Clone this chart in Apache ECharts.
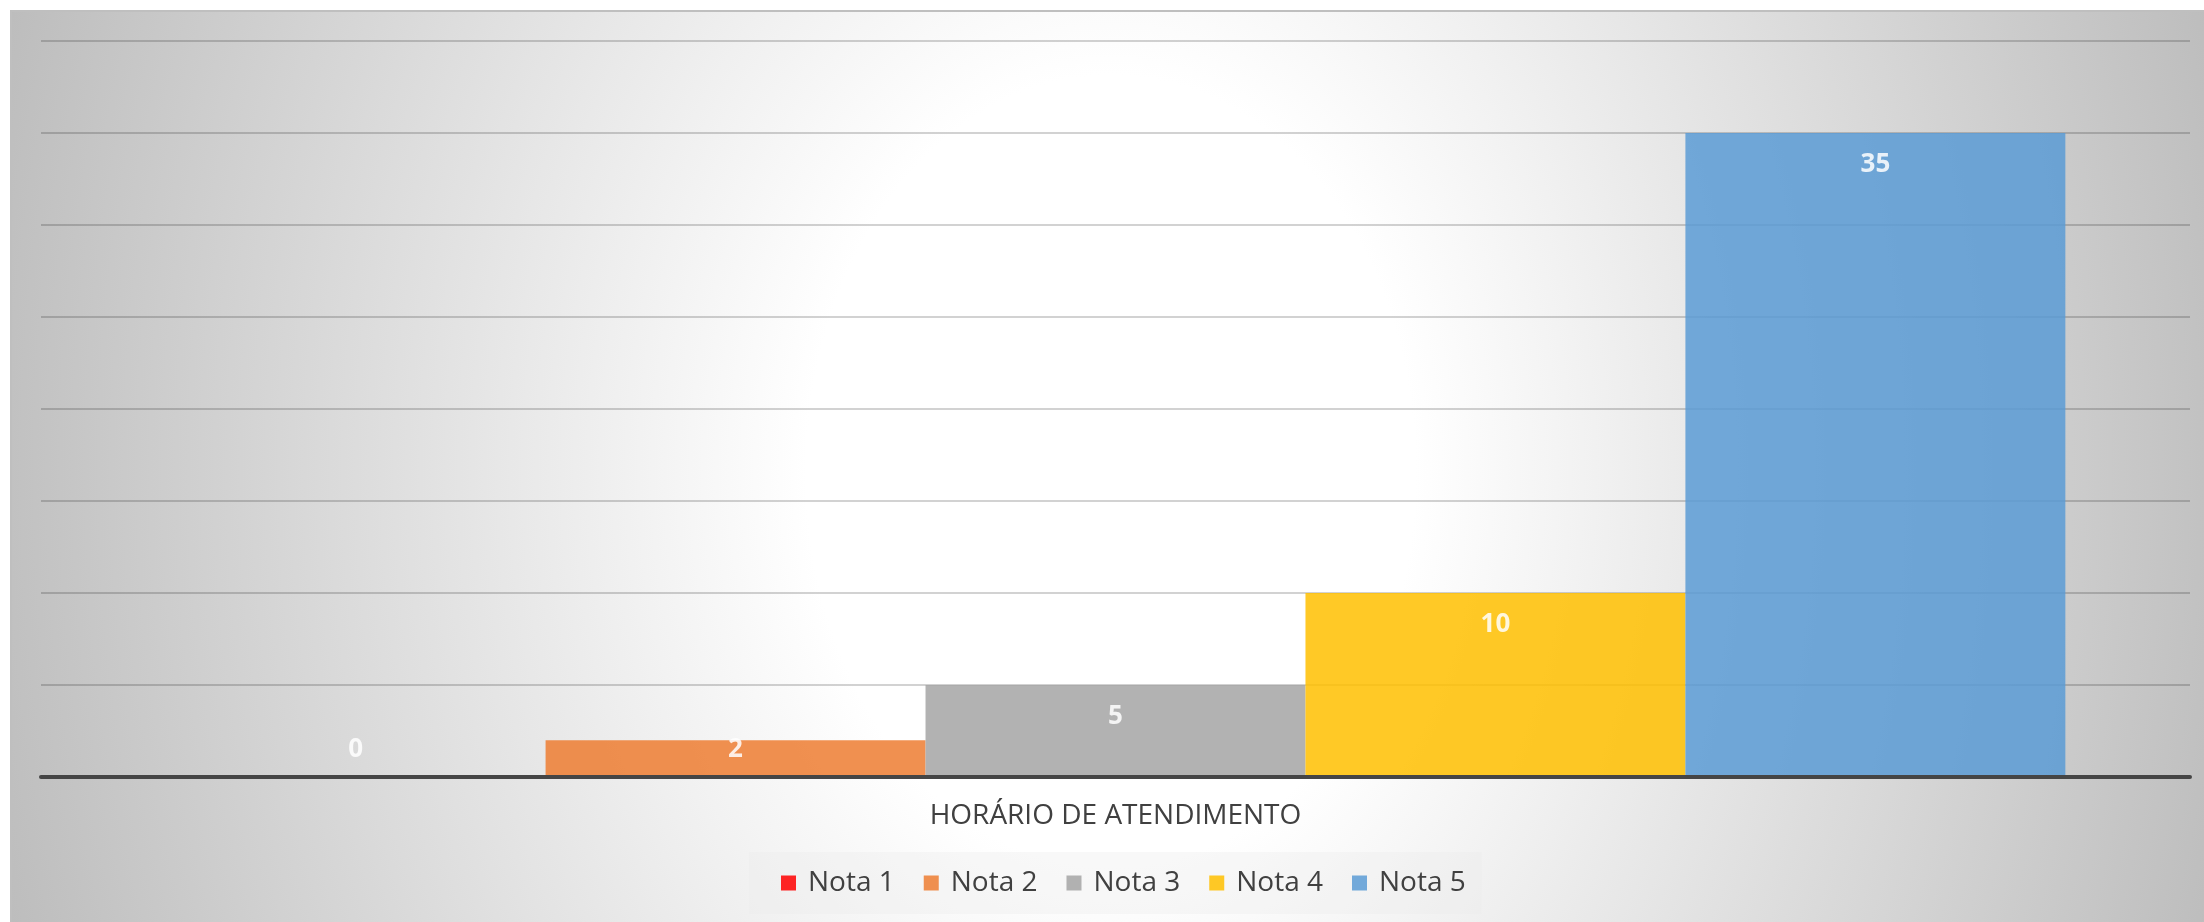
<!DOCTYPE html>
<html>
<head>
<meta charset="utf-8">
<title>Horário de atendimento</title>
<script src="https://cdn.jsdelivr.net/npm/echarts@6/dist/echarts.min.js"></script>
<style>
    html, body { margin: 0; padding: 0; background: #fff; }
    #chart { width: 2204px; height: 922px; }
</style>
</head>
<body>
<div id="chart"></div>
<script>
// data
const categories = ['HORÁRIO DE ATENDIMENTO'];
const seriesNames = ['Nota 1', 'Nota 2', 'Nota 3', 'Nota 4', 'Nota 5'];
const seriesValues = [0, 2, 5, 10, 35];
const seriesColors = ['#FF0000', '#ED7D31', '#A5A5A5', '#FFC000', '#5B9BD5'];

const textColor = '#404040';
const fontFamily = '"Open Sans", "Noto Sans", sans-serif';

const myChart = echarts.init(document.getElementById('chart'));

// short bars get the label sitting on the axis instead of hanging from the top
const buildSeries = () => seriesNames.map((name, i) => {

    const value = seriesValues[i];
    const tall = value >= 3;
    return {
        name: name,
        type: 'bar',
        barGap: '0%',
        barCategoryGap: '11.6%',
        data: [value],
        itemStyle: {
            color: seriesColors[i],
            opacity: 0.85
        },
        label: {
            show: true,
            position: tall ? 'insideTop' : 'insideBottom',
            distance: tall ? 19 : 14,
            color: '#fff',
            fontFamily: fontFamily,
            fontWeight: 'bold',
            fontSize: 26
        }
    };

});

const option = {
    animation: false,
    backgroundColor: '#fff',
    graphic: [{
        // radial fill, stretched vertically so the centre stays light top to bottom
        type: 'rect',
        z: -10,
        silent: true,
        originX: 0,
        originY: 11,
        scaleY: 1.3,
        shape: { x: 11, y: 11, width: 2200, height: 708 },
        style: {
            fill: {
                type: 'radial',
                x: 0.5,
                y: 0.5,
                r: 1.72,
                colorStops: [
                    { offset: 0, color: '#ffffff' },
                    { offset: 0.25, color: '#ffffff' },
                    { offset: 1, color: '#b8b8b8' }
                ]
            }
        }
    }, {
        type: 'rect',
        z: -9,
        silent: true,
        shape: { x: 11, y: 11, width: 2200, height: 920 },
        style: { fill: 'none', stroke: '#bfbfbf', lineWidth: 2 }
    }],
    grid: {
        left: 41,
        right: 14,
        top: 41,
        bottom: 145,
        containLabel: false
    },
    legend: {
        data: seriesNames,
        left: 749,
        top: 852,
        padding: [17, 16, 17, 32],
        backgroundColor: 'rgba(235,235,235,0.35)',
        icon: 'rect',
        itemWidth: 15,
        itemHeight: 15,
        itemGap: 29,
        textStyle: {
            color: textColor,
            fontFamily: fontFamily,
            fontSize: 28,
            padding: [0, 0, 0, 7]
        }
    },
    xAxis: {
        type: 'category',
        data: categories,
        z: 5,
        axisTick: { show: false },
        axisLine: { lineStyle: { color: '#454545', width: 4 } },
        axisLabel: {
            color: textColor,
            fontFamily: fontFamily,
            fontSize: 28,
            margin: 25
        }
    },
    yAxis: {
        type: 'value',
        min: 0,
        max: 40,
        interval: 5,
        axisLabel: { show: false },
        axisLine: { show: false },
        axisTick: { show: false },
        splitLine: { lineStyle: { color: 'rgba(0,0,0,0.24)', width: 1.5 } }
    },
    series: buildSeries()
};

myChart.setOption(option);
</script>
</body>
</html>
